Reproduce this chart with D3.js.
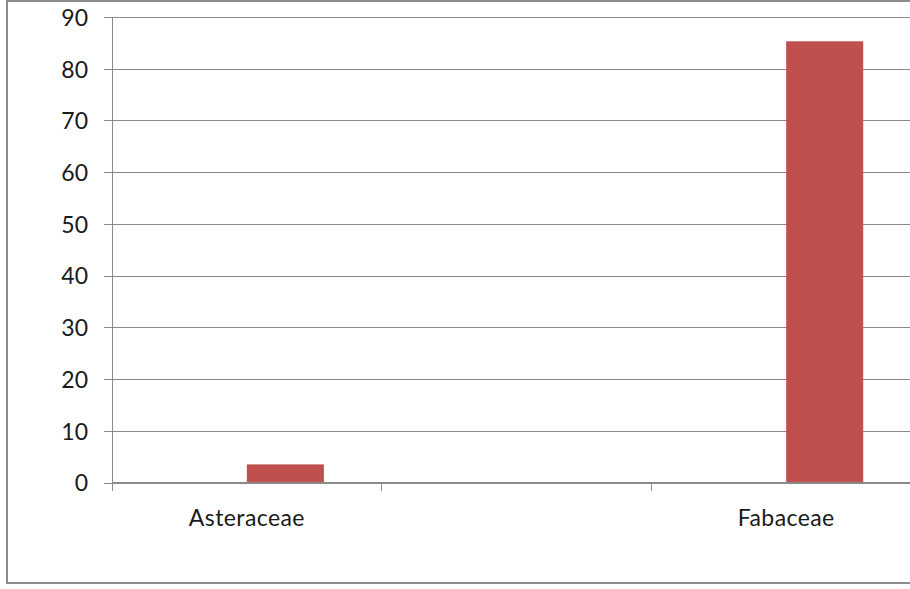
<!DOCTYPE html>
<html>
<head>
<meta charset="utf-8">
<script src="https://cdn.jsdelivr.net/npm/d3@7"></script>
<style>
  html, body { margin: 0; padding: 0; background: #fff; overflow: hidden; }
  svg { display: block; }
  text { font-family: Lato, "Liberation Sans", Arial, sans-serif; fill: #1a1a1a; }
</style>
</head>
<body>
<script>
// Family labels along the category axis (middle slot carries no label)
const categories = ["Asteraceae", "", "Fabaceae"];
// Two series per category; the first has no values, the second holds the counts
const seriesNames = ["Series 1", "Series 2"];
const series1 = [0, 0, 0];
const series2 = [3.5, 0, 85.3];
const yTicks = [0, 10, 20, 30, 40, 50, 60, 70, 80, 90];
const seriesColors = ["#4F81BD", "#C0504D"];

const W = 910, H = 589;
const plot = { left: 112, right: 921, top: 17, bottom: 482.5 };

const svg = d3.select("body").append("svg")
  .attr("width", W).attr("height", H);

// outer chart frame
svg.append("rect")
  .attr("x", 7).attr("y", 1)
  .attr("width", 960).attr("height", 582)
  .attr("fill", "#fff")
  .attr("stroke", "#8c8c8c").attr("stroke-width", 2);

const x = d3.scaleBand().domain(d3.range(categories.length))
  .range([plot.left, plot.right]).paddingInner(0).paddingOuter(0);
// Excel-style 150% gap: bar width = band / (n + 1.5)
const gap = 1.5;
const barW = x.bandwidth() / (seriesNames.length + gap);
const xs = d3.scaleBand().domain(d3.range(seriesNames.length))
  .range([barW * gap / 2, barW * gap / 2 + barW * seriesNames.length]);

const y = d3.scaleLinear().domain([0, 90]).range([plot.bottom, plot.top]);

// horizontal gridlines with short ticks left of the axis
const yAxis = d3.axisLeft(y).tickValues(yTicks)
  .tickSize(-(plot.right - plot.left)).tickSizeOuter(0).tickPadding(16)
  .tickFormat(d3.format("d"));
const gy = svg.append("g").attr("transform", `translate(${plot.left},0)`).call(yAxis);
gy.select(".domain").remove();
gy.selectAll(".tick line").attr("stroke", "#8a8a8a").attr("x1", -8).attr("shape-rendering", "crispEdges");
gy.selectAll(".tick text").attr("font-size", 23).attr("fill", "#1a1a1a")
  .attr("x", -24).attr("dy", "0.36em");

// vertical axis line
svg.append("line")
  .attr("x1", plot.left).attr("x2", plot.left)
  .attr("y1", plot.top).attr("y2", plot.bottom + 8)
  .attr("stroke", "#8a8a8a").attr("shape-rendering", "crispEdges");

// bars
const data = categories.map((c, i) => [series1[i], series2[i]]);
const groups = svg.append("g").selectAll("g").data(data).join("g")
  .attr("transform", (d, i) => `translate(${x(i)},0)`);
groups.selectAll("rect").data(d => d.map((v, s) => ({ v, s }))).join("rect")
  .attr("x", d => xs(d.s))
  .attr("width", xs.bandwidth())
  .attr("y", d => y(d.v))
  .attr("height", d => y(0) - y(d.v))
  .attr("fill", d => seriesColors[d.s]);

// category axis: boundary ticks and labels
const boundaries = d3.range(categories.length + 1).map(i => plot.left + i * x.bandwidth());
svg.append("g").selectAll("line").data(boundaries).join("line")
  .attr("x1", d => d).attr("x2", d => d)
  .attr("y1", plot.bottom).attr("y2", plot.bottom + 8)
  .attr("stroke", "#8a8a8a").attr("shape-rendering", "crispEdges");
svg.append("line")
  .attr("x1", plot.left).attr("x2", plot.right)
  .attr("y1", plot.bottom).attr("y2", plot.bottom)
  .attr("stroke", "#8a8a8a").attr("shape-rendering", "crispEdges");

svg.append("g").selectAll("text").data(categories).join("text")
  .attr("x", (d, i) => x(i) + x.bandwidth() / 2)
  .attr("y", 526)
  .attr("text-anchor", "middle")
  .attr("font-size", 23)
  .attr("letter-spacing", "0.4px")
  .text(d => d);
</script>
</body>
</html>
